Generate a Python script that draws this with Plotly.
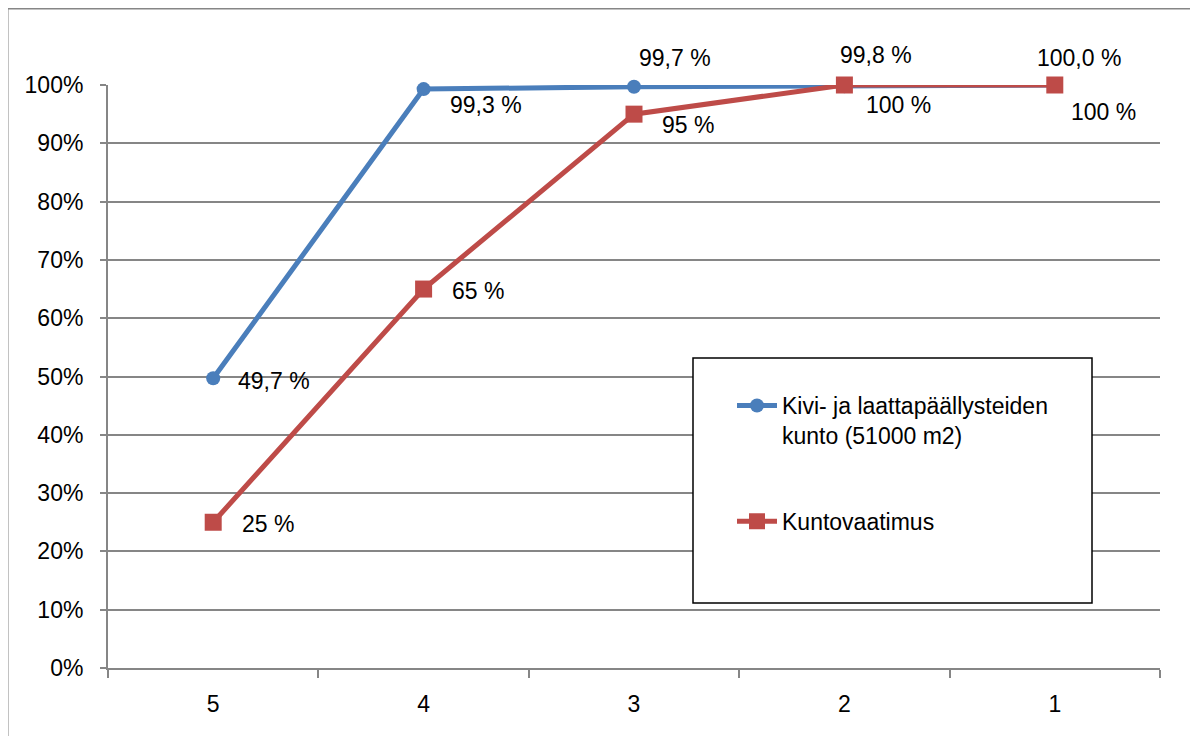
import plotly.graph_objects as go

categories = ["5", "4", "3", "2", "1"]
kunto = [0.497, 0.993, 0.997, 0.998, 1.000]
vaatimus = [0.25, 0.65, 0.95, 1.00, 1.00]
y_ticks = [0, 0.1, 0.2, 0.3, 0.4, 0.5, 0.6, 0.7, 0.8, 0.9, 1.0]
name_kunto = "Kivi- ja laattapäällysteiden<br>kunto (51000 m2)"
name_vaatimus = "Kuntovaatimus"

# page body has an 8px margin; figure sized to fit the window
OFF = 8
W, H = 1190, 728
PL, PR, PT, PB = 108, 1160, 85, 668          # plot area in page pixels
L, T = PL - OFF, PT - OFF
R, B = W - (PR - OFF), H - (PB - OFF)
FONT = "Liberation Sans, Arial, sans-serif"
FS = 23
BLUE = "rgb(74,126,187)"
RED = "rgb(190,75,72)"
GRID = "rgb(134,134,134)"

pw, ph = PR - PL, PB - PT


def px_x(p):
    return (p - PL) / pw


def px_y(p):
    return (PB - p) / ph


fig = go.Figure()
fig.add_trace(go.Scatter(
    x=categories, y=kunto, name=name_kunto, mode="lines+markers",
    line=dict(color=BLUE, width=5), marker=dict(symbol="circle", size=14, color=BLUE),
    legendgroup="a", cliponaxis=False))
fig.add_trace(go.Scatter(
    x=categories, y=vaatimus, name=name_vaatimus, mode="lines+markers",
    line=dict(color=RED, width=5), marker=dict(symbol="square", size=17, color=RED),
    legendgroup="b", cliponaxis=False))

# label offsets (pixels) per point: (xshift, yshift, xanchor)
blue_off = [(23, -3, "left"), (24, -16, "left"), (41, 29, "center"), (32, 31, "center"), (24, 27, "center")]
red_off = [(27, -2, "left"), (26, -2, "left"), (26, -11, "left"), (20, -20, "left"), (14, -27, "left")]

anns = []
for i, v in enumerate(kunto):
    xs, ys, xa = blue_off[i]
    anns.append(dict(x=i, y=v, xref="x", yref="y", text=f"{v*100:.1f} %".replace(".", ","),
                     showarrow=False, xanchor=xa, yanchor="middle", xshift=xs, yshift=ys,
                     font=dict(family=FONT, size=FS, color="black")))
for i, v in enumerate(vaatimus):
    xs, ys, xa = red_off[i]
    anns.append(dict(x=i, y=v, xref="x", yref="y", text=f"{v*100:.0f} %",
                     showarrow=False, xanchor=xa, yanchor="middle", xshift=xs, yshift=ys,
                     font=dict(family=FONT, size=FS, color="black")))

fig.update_layout(
    width=W, height=H, margin=dict(l=L, r=R, t=T, b=B, pad=0),
    paper_bgcolor="white", plot_bgcolor="white",
    font=dict(family=FONT, size=FS, color="black"),
    annotations=anns,
    xaxis=dict(type="category", categoryorder="array", categoryarray=categories,
               range=[-0.5, len(categories) - 0.5], showgrid=False, zeroline=False,
               showline=True, linecolor=GRID, linewidth=2, ticks="outside", tickson="boundaries",
               ticklen=8, tickwidth=2, tickcolor=GRID, ticklabelstandoff=14, automargin=False,
               tickfont=dict(family=FONT, size=FS, color="black")),
    yaxis=dict(tickmode="array", tickvals=y_ticks, tickformat=".0%", range=[0, 1],
               showgrid=True, gridcolor=GRID, gridwidth=1.5, zeroline=False,
               showline=True, linecolor=GRID, linewidth=2, ticks="outside", ticklen=6,
               tickwidth=2, tickcolor=GRID, ticklabelstandoff=12, automargin=False,
               tickfont=dict(family=FONT, size=FS, color="black")),
    legend=dict(x=px_x(732), y=px_y(384), xanchor="left", yanchor="top",
                bgcolor="rgba(0,0,0,0)", borderwidth=0,
                font=dict(family=FONT, size=FS, color="black"),
                tracegroupgap=53, valign="top", itemwidth=40,
                traceorder="grouped"),
    shapes=[
        dict(type="rect", xref="paper", yref="paper",
             x0=px_x(7.5), x1=px_x(1240), y0=px_y(800), y1=px_y(8.5),
             line=dict(color=GRID, width=2), fillcolor="rgba(0,0,0,0)", layer="below"),
        dict(type="rect", xref="paper", yref="paper",
             x0=px_x(693), x1=px_x(1092), y0=px_y(603), y1=px_y(358),
             line=dict(color="black", width=1.5), fillcolor="white", layer="above"),
    ],
)

fig.write_html("out.html")
